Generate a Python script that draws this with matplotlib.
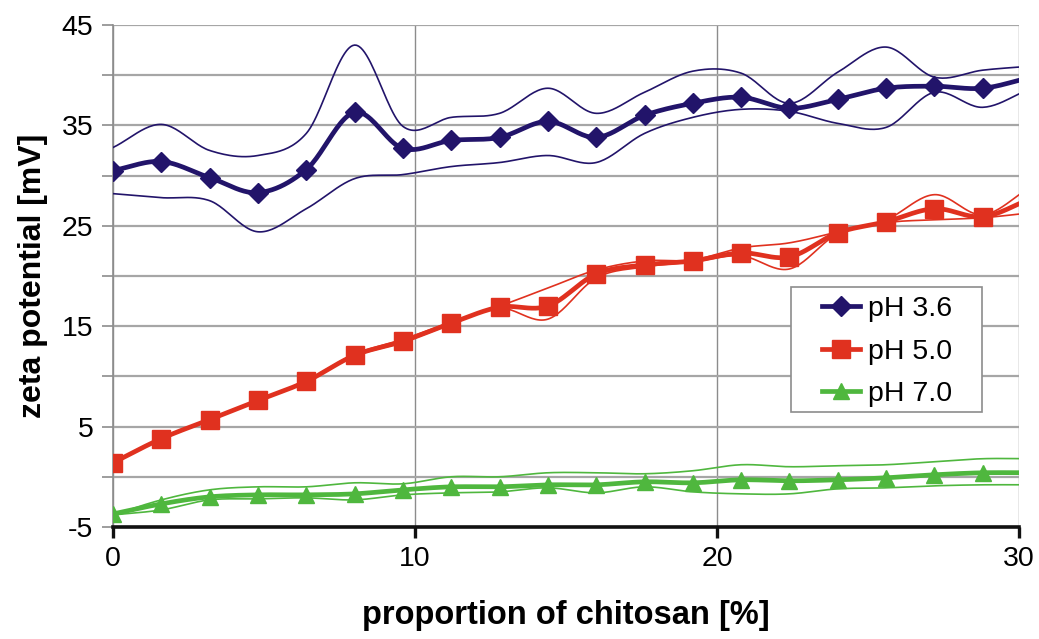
import numpy as np
import matplotlib
matplotlib.use("Agg")
import matplotlib.pyplot as plt
from matplotlib.lines import Line2D
from matplotlib.patches import Rectangle

plt.rcParams['font.family'] = ['Liberation Sans', 'DejaVu Sans']

# proportion of chitosan [%]
chitosan = [0.0, 1.6, 3.2, 4.8, 6.4, 8.0, 9.6, 11.2, 12.8, 14.4,
            16.0, 17.6, 19.2, 20.8, 22.4, 24.0, 25.6, 27.2, 28.8, 30.4]

# zeta potential [mV] at pH 3.6: mean and two replicate envelopes
ph36_mean = [30.5, 31.4, 29.8, 28.3, 30.6, 36.3, 32.7, 33.5, 33.8, 35.4,
             33.8, 36.0, 37.2, 37.8, 36.7, 37.6, 38.7, 38.9, 38.7, 39.8]
ph36_high = [32.8, 35.1, 32.5, 32.0, 34.2, 43.0, 34.9, 35.8, 36.2, 38.7,
             36.2, 38.3, 40.4, 40.2, 37.2, 40.3, 42.8, 39.8, 40.5, 40.9]
ph36_low = [28.2, 27.8, 27.5, 24.4, 26.7, 29.7, 30.1, 30.9, 31.3, 32.0,
            31.3, 34.2, 35.8, 36.6, 36.4, 35.2, 34.8, 38.3, 36.8, 38.7]

# pH 5.0
ph50_mean = [1.4, 3.8, 5.7, 7.6, 9.5, 12.1, 13.5, 15.3, 16.9, 17.0,
             20.2, 21.1, 21.5, 22.3, 21.9, 24.3, 25.4, 26.7, 25.9, 27.7]
ph50_high = [1.4, 3.8, 5.7, 7.6, 9.6, 12.2, 13.7, 15.4, 17.0, 18.8,
             20.6, 21.5, 21.6, 22.8, 23.3, 24.4, 25.6, 28.1, 26.1, 28.9]
ph50_low = [1.4, 3.8, 5.7, 7.6, 9.5, 12.0, 13.4, 15.2, 16.8, 15.7,
            19.8, 20.9, 21.4, 22.0, 20.7, 24.2, 25.3, 25.6, 25.8, 26.3]

# pH 7.0
ph70_mean = [-3.7, -2.7, -2.0, -1.8, -1.8, -1.7, -1.3, -1.0, -1.0, -0.8,
             -0.8, -0.5, -0.6, -0.3, -0.4, -0.3, -0.1, 0.2, 0.4, 0.4]
ph70_high = [-3.8, -2.3, -1.3, -1.0, -1.0, -0.6, -0.7, 0.0, 0.0, 0.4,
             0.4, 0.3, 0.6, 1.2, 1.0, 1.1, 1.2, 1.5, 1.8, 1.8]
ph70_low = [-3.8, -3.3, -2.3, -2.2, -2.1, -2.3, -1.8, -1.6, -1.5, -1.1,
            -1.6, -1.0, -1.5, -1.7, -1.7, -1.2, -1.1, -0.9, -0.8, -0.8]

series_labels = ['pH 3.6', 'pH 5.0', 'pH 7.0']
colors = ['#22146a', '#e0311f', '#4fb73e']
markers = ['D', 's', '^']
marker_sizes = [10.5, 13, 12]

x_ticks = [0, 10, 20, 30]
y_ticks = [-5, 0, 5, 10, 15, 20, 25, 30, 35, 40, 45]


def smooth(x, y, steps=24):
    """Catmull-Rom curve through the points (smoothed line rendering)."""
    x = np.asarray(x, float)
    y = np.asarray(y, float)
    px = np.concatenate([[2 * x[0] - x[1]], x, [2 * x[-1] - x[-2]]])
    py = np.concatenate([[2 * y[0] - y[1]], y, [2 * y[-1] - y[-2]]])
    t = np.linspace(0, 1, steps, endpoint=False)
    xs, ys = [], []
    for i in range(1, len(px) - 2):
        for arr, out in ((px, xs), (py, ys)):
            p0, p1, p2, p3 = arr[i - 1], arr[i], arr[i + 1], arr[i + 2]
            out.append(0.5 * ((2 * p1) + (-p0 + p2) * t
                              + (2 * p0 - 5 * p1 + 4 * p2 - p3) * t ** 2
                              + (-p0 + 3 * p1 - 3 * p2 + p3) * t ** 3))
    xs.append([x[-1]])
    ys.append([y[-1]])
    return np.concatenate(xs), np.concatenate(ys)


fig = plt.figure(figsize=(10.39, 6.39), dpi=100)
ax = fig.add_axes([0.1088, 0.1753, 0.8719, 0.7856])

groups = [(ph36_mean, ph36_high, ph36_low),
          (ph50_mean, ph50_high, ph50_low),
          (ph70_mean, ph70_high, ph70_low)]

handles = []
for (mean, high, low), col, mk, ms, lab in zip(groups, colors, markers,
                                                 marker_sizes, series_labels):
    for band in (high, low):
        sx, sy = smooth(chitosan, band)
        ax.plot(sx, sy, color=col, lw=1.2, zorder=3)
    sx, sy = smooth(chitosan, mean)
    ax.plot(sx, sy, color=col, lw=3.4, zorder=4, solid_capstyle='round')
    ax.plot(chitosan, mean, linestyle='none', marker=mk, ms=ms, color=col,
            markeredgecolor=col, zorder=5)
    handles.append(Line2D([], [], color=col, lw=3.4, marker=mk, ms=ms,
                          markeredgecolor=col, label=lab))

ax.set_xlim(0, 30)
ax.set_ylim(-5, 45)
ax.set_xticks(x_ticks)
ax.set_yticks(y_ticks)
ax.set_yticklabels([str(v) if v % 10 == 5 or v == -5 else '' for v in y_ticks])

ax.grid(True, axis='y', color='#a6a6a6', lw=1.6, zorder=1)
ax.grid(True, axis='x', color='#8c8c8c', lw=1.0, zorder=1)
ax.set_axisbelow(True)

for side in ('top', 'right'):
    ax.spines[side].set_visible(False)
ax.spines['left'].set_color('#8c8c8c')
ax.spines['left'].set_linewidth(1.2)
ax.spines['bottom'].set_color('#111111')
ax.spines['bottom'].set_linewidth(2.6)
ax.spines['bottom'].set_zorder(6)

ax.tick_params(axis='y', direction='out', length=8, width=1.2,
               color='#8c8c8c', labelsize=20.5, pad=6)
ax.tick_params(axis='x', direction='out', length=8, width=2.4,
               color='#111111', labelsize=20.5, pad=6)

ax.set_xlabel('proportion of chitosan [%]', fontsize=23.5,
              fontweight='bold', labelpad=20)
ax.set_ylabel('zeta potential [mV]', fontsize=23, fontweight='bold',
              labelpad=10)

# legend box with wide side margins
ax.add_patch(Rectangle((0.748, 0.229), 0.211, 0.249, transform=ax.transAxes,
                       facecolor='white', edgecolor='#8c8c8c', lw=1.2,
                       zorder=7))
leg = ax.legend(handles=handles, loc='upper left',
                bbox_to_anchor=(0.7826, 0.46), fontsize=20.5, frameon=False,
                handlelength=1.35, handletextpad=0.28, borderpad=0,
                labelspacing=0.58, borderaxespad=0)
leg.set_zorder(8)

fig.savefig('out.png', dpi=100)
